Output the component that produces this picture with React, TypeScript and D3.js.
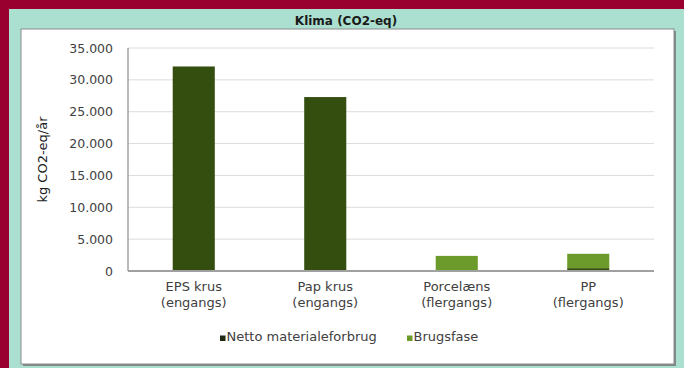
import React from "react";
import * as d3 from "d3";

const categories: string[][] = [
  ["EPS krus", "(engangs)"],
  ["Pap krus", "(engangs)"],
  ["Porcelæns", "(flergangs)"],
  ["PP", "(flergangs)"],
];
const nettoMateriale = [32100, 27300, 120, 450];
const brugsfase = [0, 0, 2250, 2250];
const seriesNames = ["Netto materialeforbrug", "Brugsfase"];
const yTicks = [0, 5000, 10000, 15000, 20000, 25000, 30000, 35000];

const W = 684;
const H = 368;
const colors = ["#344e0f", "#6c9b2b"];
const font = "'DejaVu Sans', Verdana, sans-serif";

export default function App() {
  const plot = { left: 128, right: 654, top: 48, bottom: 271 };
  const x = d3
    .scaleBand<number>()
    .domain(categories.map((_, i) => i))
    .range([plot.left, plot.right])
    .paddingInner(0.68)
    .paddingOuter(0.34);
  const y = d3.scaleLinear().domain([0, 35000]).range([plot.bottom, plot.top]);
  const fmt = (v: number) => d3.format(",")(v).replace(/,/g, ".");

  const stackData = categories.map((_, i) => ({
    i,
    netto: nettoMateriale[i],
    brug: brugsfase[i],
  }));
  const stacked = d3.stack<any>().keys(["netto", "brug"])(stackData);

  return (
    <svg
      width={W}
      height={H}
      style={{ position: "absolute", left: 0, top: 0, display: "block" }}
      fontFamily={font}
    >
      <rect x={0} y={0} width={W} height={H} fill="#99002f" />
      <rect x={9} y={9} width={W - 9} height={H - 9} fill="#abe0d1" />
      <text x={346} y={25} textAnchor="middle" fontSize={12} fontWeight="bold" fill="#1a1a1a">
        Klima (CO2-eq)
      </text>

      {/* chart frame with shadow */}
      <rect x={23} y={31} width={653} height={335} fill="#7f8a86" />
      <rect x={21} y={29} width={653} height={335} fill="#ffffff" stroke="#8a8a8a" strokeWidth={1} />

      {/* gridlines */}
      {yTicks.map((t) => (
        <line
          key={t}
          x1={plot.left}
          x2={plot.right}
          y1={y(t)}
          y2={y(t)}
          stroke="#dcdcdc"
          strokeWidth={1}
        />
      ))}
      {yTicks.map((t) => (
        <text
          key={"l" + t}
          x={113}
          y={y(t) + 4.5}
          textAnchor="end"
          fontSize={12.5}
          fill="#404040"
        >
          {fmt(t)}
        </text>
      ))}
      <text
        transform={`translate(47,${(plot.top + plot.bottom) / 2}) rotate(-90)`}
        textAnchor="middle"
        fontSize={13}
        fill="#1a1a1a"
      >
        kg CO2-eq/år
      </text>

      {/* bars */}
      {stacked.map((layer, li) =>
        layer.map((d, i) => {
          const h = y(d[0]) - y(d[1]);
          if (h <= 0) return null;
          return (
            <rect
              key={li + "-" + i}
              x={x(i)!}
              y={y(d[1])}
              width={x.bandwidth()}
              height={h}
              fill={colors[li]}
            />
          );
        })
      )}

      {/* axes */}
      <line x1={plot.left} x2={plot.left} y1={plot.top} y2={plot.bottom} stroke="#8c8c8c" strokeWidth={1.2} />
      <line x1={plot.left} x2={plot.right} y1={plot.bottom} y2={plot.bottom} stroke="#a0a0a0" strokeWidth={2} />

      {categories.map((lines, i) => {
        const cx = x(i)! + x.bandwidth() / 2;
        return (
          <g key={"c" + i} fontSize={13} fill="#404040" textAnchor="middle">
            <text x={cx} y={291}>
              {lines[0]}
            </text>
            <text x={cx} y={307}>
              {lines[1]}
            </text>
          </g>
        );
      })}

      {/* legend */}
      {[220, 407].map((lx, k) => (
        <g key={"lg" + k}>
          <rect x={lx} y={335.5} width={5.5} height={5.5} fill={k === 0 ? "#1f2a10" : colors[1]} />
          <text x={lx + 6.5} y={341} fontSize={13} fill="#404040">
            {seriesNames[k]}
          </text>
        </g>
      ))}
    </svg>
  );
}
